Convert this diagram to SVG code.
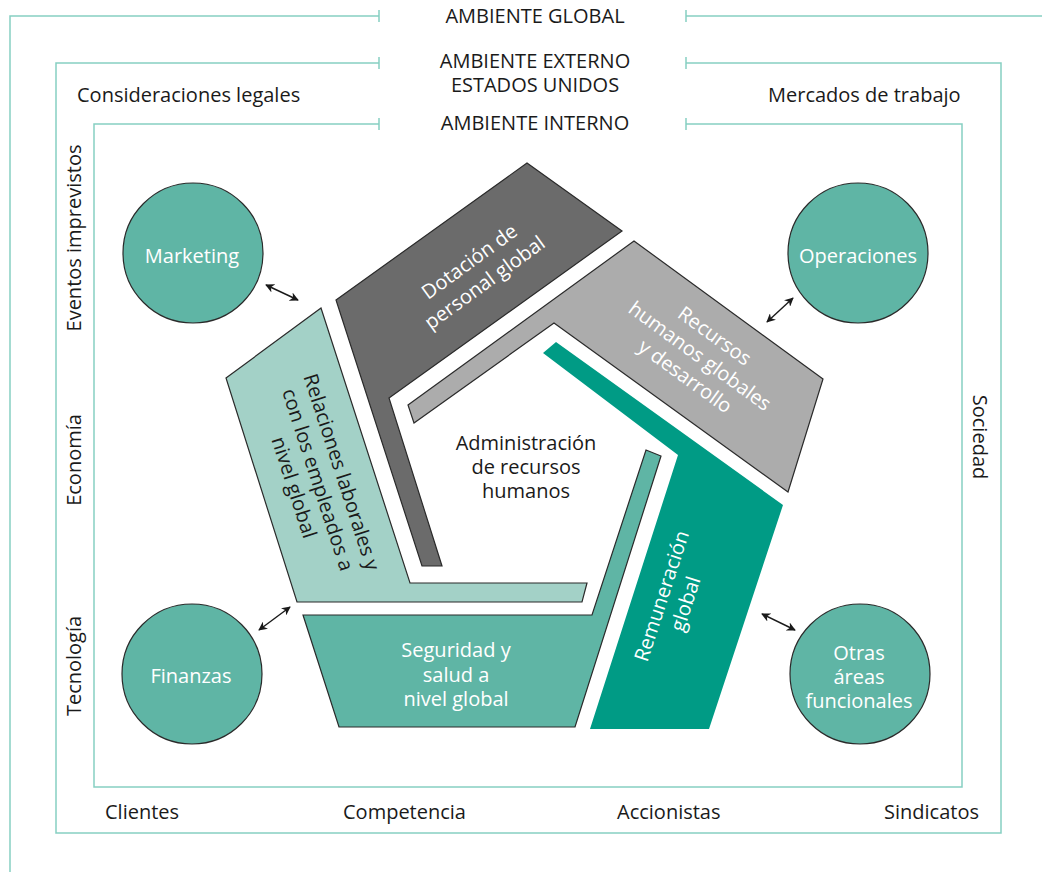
<svg xmlns="http://www.w3.org/2000/svg" width="1042" height="872" viewBox="0 0 1042 872">
<defs>
<marker id="ah" viewBox="0 0 10 10" refX="9" refY="5" markerWidth="9" markerHeight="9" markerUnits="userSpaceOnUse" orient="auto-start-reverse">
<path d="M0,0 L10,5 L0,10 L3,5 Z" fill="#1a1a1a"/>
</marker>
</defs>
<style>
.frame{fill:none;stroke:#86d0c2;stroke-width:1.5}
.lbl{font-family:"Open Sans","Noto Sans",sans-serif;font-size:20px;fill:#1a1a1a}
.ctr{text-anchor:middle}
.wt{font-family:"Open Sans","Noto Sans",sans-serif;font-size:20px;fill:#ffffff;text-anchor:middle}
.bk{font-family:"Open Sans","Noto Sans",sans-serif;font-size:20px;fill:#1a1a1a;text-anchor:middle}
.circ{fill:#5fb5a5;stroke:#2a2a2a;stroke-width:1.2}
.seg{stroke:#2a2a2a;stroke-width:1.2}
.arr{stroke:#1a1a1a;stroke-width:1.4;fill:none;marker-start:url(#ah);marker-end:url(#ah)}
</style>
<rect width="1042" height="872" fill="#ffffff"/>
<g id="frames">
<path class="frame" d="M10,872 V16 H379 M379,10 V22 M686,10 V22 M686,16 H1042"/>
<path class="frame" d="M379,63 H56 V833 H1001 V63 H686 M379,57 V69 M686,57 V69"/>
<path class="frame" d="M379,124 H94 V787 H962 V124 H686 M379,118 V130 M686,118 V130"/>
</g>
<g id="frame-labels">
<text class="lbl ctr" x="535" y="23">AMBIENTE GLOBAL</text>
<text class="lbl ctr" x="535" y="68">AMBIENTE EXTERNO</text>
<text class="lbl ctr" x="535" y="92">ESTADOS UNIDOS</text>
<text class="lbl ctr" x="535" y="130">AMBIENTE INTERNO</text>
<text class="lbl" x="77" y="102">Consideraciones legales</text>
<text class="lbl" x="768" y="102">Mercados de trabajo</text>
<text class="lbl ctr" transform="translate(81,238) rotate(-90)">Eventos imprevistos</text>
<text class="lbl ctr" transform="translate(81,460) rotate(-90)">Economía</text>
<text class="lbl ctr" transform="translate(81,666) rotate(-90)">Tecnología</text>
<text class="lbl ctr" transform="translate(973,437) rotate(90)">Sociedad</text>
<text class="lbl" x="105" y="819">Clientes</text>
<text class="lbl" x="343" y="819">Competencia</text>
<text class="lbl" x="617" y="819">Accionistas</text>
<text class="lbl" x="884" y="819">Sindicatos</text>
</g>
<g id="node-dotacion">
<polygon class="seg" fill="#6b6b6b" points="336,300 527,163 622,231 389,398 442,566 422,566"/>
<text class="wt" transform="translate(477,272) rotate(-36)"><tspan x="0" y="-6">Dotación de</tspan><tspan x="0" y="20">personal global</tspan></text>
</g>
<g id="node-recursos">
<polygon class="seg" fill="#acacac" points="634,241 823,379 788,492 554,323 414,423 408,405"/>
<text class="wt" transform="translate(700,356) rotate(36)"><tspan x="0" y="-18">Recursos</tspan><tspan x="0" y="7">humanos globales</tspan><tspan x="0" y="32">y desarrollo</tspan></text>
</g>
<g id="node-remuneracion">
<polygon fill="#009b85" points="543,353 556,342 783,505 709,729 590,729 678,455"/>
<text class="wt" transform="translate(674,600) rotate(-72)"><tspan x="0" y="-6">Remuneración</tspan><tspan x="0" y="19">global</tspan></text>
</g>
<g id="node-seguridad">
<polygon class="seg" fill="#5fb5a5" points="303,615 592,615 646,450 661,456 575,727 339,727"/>
<text class="wt"><tspan x="456" y="657">Seguridad y</tspan><tspan x="456" y="682">salud a</tspan><tspan x="456" y="706">nivel global</tspan></text>
</g>
<g id="node-relaciones">
<polygon class="seg" fill="#a3d1c7" points="226,378 321,308 410,583 587,583 582,602 297,602"/>
<text class="bk" transform="translate(317,480) rotate(72)"><tspan x="0" y="-19">Relaciones laborales y</tspan><tspan x="0" y="6">con los empleados a</tspan><tspan x="0" y="31">nivel global</tspan></text>
</g>
<g id="node-center">
<text class="bk"><tspan x="526" y="450">Administración</tspan><tspan x="526" y="474">de recursos</tspan><tspan x="526" y="498">humanos</tspan></text>
</g>
<g id="node-marketing">
<circle class="circ" cx="193" cy="253" r="70"/>
<text class="wt" x="192" y="263">Marketing</text>
</g>
<g id="node-operaciones">
<circle class="circ" cx="858" cy="253" r="70"/>
<text class="wt" x="858" y="263">Operaciones</text>
</g>
<g id="node-finanzas">
<circle class="circ" cx="192" cy="674" r="70"/>
<text class="wt" x="191" y="683">Finanzas</text>
</g>
<g id="node-otras">
<circle class="circ" cx="860" cy="674" r="70"/>
<text class="wt"><tspan x="859" y="660">Otras</tspan><tspan x="859" y="684">áreas</tspan><tspan x="859" y="708">funcionales</tspan></text>
</g>
<g id="connectors">
<line class="arr" x1="266" y1="285" x2="298" y2="300"/>
<line class="arr" x1="793" y1="298" x2="767" y2="322"/>
<line class="arr" x1="290" y1="607" x2="259" y2="630"/>
<line class="arr" x1="762" y1="614" x2="795" y2="630"/>
</g>
</svg>
